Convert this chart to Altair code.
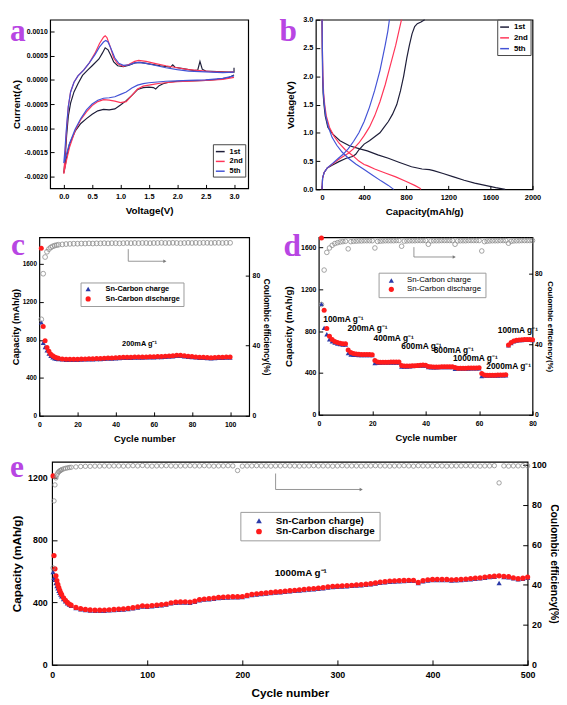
import altair as alt
import pandas as pd

FONT = "Liberation Sans"
SERIF = "Liberation Serif"
PURPLE = "#b846e3"
RED = "#ff1c1c"
BLUE = "#2b3aa8"
CE_GRAY = "#8a8a8a"
ARROW_GRAY = "#7a7a7a"

CV_LABELS = ["1st", "2nd", "5th"]
CV_COLORS = ["#1d1d38", "#ff3558", "#4353d6"]
SERIES_CD = ["Sn-Carbon charge", "Sn-Carbon discharge"]
SERIES_E = ["Sn-Carbon charge)", "Sn-Carbon discharge"]

# ---------------- panel a : cyclic voltammetry (V, A) ----------------
CV_1ST = [(3.00, 0.00010), (2.90, 0.00004), (2.70, 0.00001), (2.50, -0.00001), (2.20, -0.00002),
          (2.00, -0.00003), (1.85, -0.00005), (1.75, -0.00008), (1.68, -0.00012), (1.62, -0.00019),
          (1.58, -0.00016), (1.50, -0.00015), (1.40, -0.00016), (1.30, -0.00020), (1.20, -0.00032),
          (1.10, -0.00043), (1.00, -0.00052), (0.90, -0.00060), (0.80, -0.00062), (0.70, -0.00061),
          (0.60, -0.00064), (0.50, -0.00071), (0.40, -0.00080), (0.30, -0.00090), (0.20, -0.00106),
          (0.10, -0.00133), (0.05, -0.00160), (0.02, -0.00180), (0.00, -0.00192),
          (0.02, -0.00170), (0.05, -0.00115), (0.08, -0.00075), (0.12, -0.00048), (0.18, -0.00025),
          (0.25, -0.00008), (0.33, 0.00009), (0.42, 0.00020), (0.50, 0.00029), (0.62, 0.00043),
          (0.68, 0.00055), (0.73, 0.00066), (0.78, 0.00062), (0.83, 0.00050), (0.88, 0.00037),
          (0.95, 0.00029), (1.05, 0.00027), (1.15, 0.00030), (1.25, 0.00035), (1.35, 0.00036),
          (1.50, 0.00033), (1.70, 0.00029), (1.88, 0.00026), (1.92, 0.00031), (1.96, 0.00026),
          (2.10, 0.00023), (2.30, 0.00019), (2.36, 0.00020), (2.40, 0.00038), (2.44, 0.00022),
          (2.50, 0.00018), (2.70, 0.00017), (2.90, 0.00016), (3.00, 0.00016), (3.00, 0.00025)]
CV_2ND = [(3.00, 0.00005), (2.80, 0.00001), (2.50, -0.00001), (2.20, -0.00003), (2.00, -0.00004),
          (1.80, -0.00006), (1.70, -0.00007), (1.60, -0.00009), (1.50, -0.00011), (1.40, -0.00013),
          (1.30, -0.00019), (1.20, -0.00032), (1.10, -0.00045), (1.00, -0.00047), (0.90, -0.00044),
          (0.80, -0.00042), (0.70, -0.00041), (0.60, -0.00045), (0.50, -0.00053), (0.40, -0.00066),
          (0.30, -0.00082), (0.20, -0.00105), (0.10, -0.00140), (0.05, -0.00165), (0.02, -0.00182),
          (0.00, -0.00194),
          (0.02, -0.00160), (0.05, -0.00100), (0.08, -0.00055), (0.12, -0.00025), (0.18, -0.00005),
          (0.25, 0.00008), (0.35, 0.00020), (0.45, 0.00035), (0.55, 0.00055), (0.63, 0.00075),
          (0.70, 0.00088), (0.73, 0.00091), (0.76, 0.00087), (0.82, 0.00068), (0.88, 0.00045),
          (0.95, 0.00033), (1.05, 0.00028), (1.15, 0.00032), (1.25, 0.00038), (1.32, 0.00040),
          (1.45, 0.00038), (1.60, 0.00034), (1.80, 0.00029), (2.00, 0.00025), (2.20, 0.00021),
          (2.40, 0.00019), (2.60, 0.00017), (2.80, 0.00016), (3.00, 0.00016)]
CV_5TH = [(3.00, 0.00008), (2.80, 0.00003), (2.50, 0.00000), (2.20, -0.00001), (2.00, -0.00002),
          (1.80, -0.00003), (1.60, -0.00005), (1.50, -0.00006), (1.40, -0.00008), (1.30, -0.00011),
          (1.20, -0.00017), (1.10, -0.00025), (1.00, -0.00030), (0.90, -0.00035), (0.80, -0.00037),
          (0.70, -0.00038), (0.60, -0.00042), (0.50, -0.00050), (0.40, -0.00062), (0.30, -0.00080),
          (0.20, -0.00102), (0.10, -0.00132), (0.05, -0.00152), (0.02, -0.00165), (0.00, -0.00172),
          (0.02, -0.00145), (0.05, -0.00095), (0.08, -0.00055), (0.12, -0.00025), (0.18, -0.00005),
          (0.25, 0.00008), (0.35, 0.00020), (0.45, 0.00035), (0.55, 0.00052), (0.63, 0.00068),
          (0.70, 0.00078), (0.74, 0.00081), (0.78, 0.00078), (0.84, 0.00062), (0.90, 0.00045),
          (0.97, 0.00034), (1.05, 0.00030), (1.15, 0.00031), (1.25, 0.00035), (1.32, 0.00036),
          (1.45, 0.00034), (1.60, 0.00030), (1.80, 0.00025), (2.00, 0.00021), (2.20, 0.00018),
          (2.40, 0.00017), (2.60, 0.00016), (2.80, 0.00015), (3.00, 0.00016)]

# ---------------- panel b : voltage profiles (mAh/g, V) ----------------
B_1ST_DIS = [(0, 3.0), (2, 2.5), (5, 2.0), (10, 1.7), (18, 1.5), (30, 1.3), (55, 1.1), (100, 0.98),
             (170, 0.86), (260, 0.77), (350, 0.72), (430, 0.68), (530, 0.61), (630, 0.55), (730, 0.48),
             (850, 0.40), (950, 0.36), (1020, 0.35), (1060, 0.33), (1150, 0.28), (1250, 0.22),
             (1350, 0.16), (1450, 0.11), (1550, 0.07), (1650, 0.03), (1740, 0.0)]
B_1ST_CHG = [(0, 0.0), (5, 0.2), (20, 0.3), (50, 0.38), (100, 0.43), (160, 0.49), (230, 0.55),
             (290, 0.58), (320, 0.62), (350, 0.70), (400, 0.80), (450, 0.86), (500, 0.93), (550, 1.0),
             (590, 1.1), (630, 1.2), (670, 1.33), (710, 1.5), (745, 1.74), (775, 2.0), (805, 2.32),
             (830, 2.55), (855, 2.75), (880, 2.88), (905, 2.93), (940, 2.96), (975, 3.0)]
B_2ND_DIS = [(0, 3.0), (3, 2.5), (8, 2.0), (15, 1.7), (25, 1.5), (40, 1.3), (70, 1.1), (110, 0.95),
             (160, 0.82), (220, 0.70), (290, 0.60), (350, 0.50), (400, 0.44), (430, 0.42), (500, 0.36),
             (600, 0.29), (700, 0.22), (800, 0.14), (880, 0.07), (930, 0.02), (940, 0.0)]
B_2ND_CHG = [(0, 0.0), (5, 0.2), (20, 0.3), (50, 0.38), (100, 0.45), (150, 0.52), (200, 0.58),
             (250, 0.64), (300, 0.72), (350, 0.82), (400, 0.95), (450, 1.1), (500, 1.3), (550, 1.55),
             (600, 1.85), (650, 2.2), (700, 2.55), (730, 2.8), (755, 3.0)]
B_5TH_DIS = [(0, 3.0), (3, 2.5), (7, 2.0), (13, 1.7), (22, 1.5), (35, 1.3), (60, 1.1), (95, 0.92),
             (140, 0.78), (190, 0.66), (250, 0.55), (320, 0.45), (400, 0.35), (480, 0.25), (560, 0.15),
             (630, 0.07), (680, 0.0)]
B_5TH_CHG = [(0, 0.0), (5, 0.2), (20, 0.3), (50, 0.38), (100, 0.46), (150, 0.54), (200, 0.62),
             (250, 0.72), (300, 0.85), (350, 1.0), (400, 1.2), (450, 1.45), (500, 1.75), (550, 2.1),
             (600, 2.55), (625, 2.8), (640, 3.0)]

# ---------------- panel c : 200 mA/g cycling ----------------
C_CYCLES = [1, 2, 3, 4, 5, 6, 7, 8, 9, 10] + list(range(12, 101, 2))
C_DIS = [1765, 940, 790, 720, 680, 650, 632, 620, 612, 607,
         600, 597, 595, 595, 596, 598, 600, 601, 602, 603, 604, 606, 608, 610, 612,
         614, 616, 617, 618, 619, 620, 620, 621, 622, 623, 624, 626, 628, 630, 634,
         637, 638, 634, 628, 624, 621, 618, 616, 614, 613, 614, 616, 617, 619, 620]
C_CHG = [985, 770, 725, 690, 655, 632, 616, 606, 600, 597,
         594, 591, 589, 589, 590, 592, 594, 595, 596, 597, 598, 600, 602, 604, 606,
         608, 610, 611, 612, 613, 614, 614, 615, 616, 617, 618, 620, 622, 624, 628,
         631, 632, 628, 622, 618, 615, 612, 610, 608, 607, 608, 610, 611, 613, 614]
C_CE = [55.0, 81.0, 90.5, 93.5, 95.0, 96.0, 96.6, 97.0, 97.3, 97.5,
        97.7, 97.9, 98.0, 98.1, 98.1, 98.2, 98.2, 98.3, 98.2, 98.3, 98.3, 98.4, 98.3, 98.4, 98.4,
        98.3, 98.4, 98.5, 98.4, 98.5, 98.4, 98.5, 98.5, 98.4, 98.5, 98.5, 98.6, 98.5, 98.5, 98.6,
        98.5, 98.4, 98.5, 98.6, 98.5, 98.6, 98.5, 98.6, 98.6, 98.5, 98.6, 98.6, 98.5, 98.6, 98.6]
C_RATE_TEXT = ["200mA g⁻¹"]
C_RATE_X = [52.5]
C_RATE_Y = [756]
C_ARROW_X = [46.6, 46.6, 65.8]
C_ARROW_Y = [95.0, 88.1, 88.1]

# ---------------- panel d : rate capability ----------------
D_CYCLES = list(range(1, 81))
D_DIS = [1690, 1000, 825, 750, 720, 700, 690, 685, 680, 680,
         620, 595, 585, 580, 578, 577, 577, 577, 576, 575,
         520, 505, 502, 502, 503, 503, 504, 504, 505, 505,
         472, 466, 466, 467, 468, 470, 472, 474, 475, 474,
         462, 459, 458, 458, 458, 459, 460, 460, 460, 460,
         452, 446, 445, 445, 446, 447, 448, 448, 448, 449,
         395, 380, 378, 378, 378, 379, 380, 380, 381, 382,
         668, 690, 705, 712, 716, 718, 720, 720, 720, 718]
D_CHG = [1060, 830, 770, 722, 702, 690, 680, 675, 670, 670,
         590, 576, 573, 572, 571, 571, 571, 571, 570, 570,
         495, 497, 497, 498, 498, 499, 499, 500, 500, 500,
         462, 461, 462, 463, 465, 467, 469, 470, 471, 470,
         455, 454, 454, 454, 455, 455, 456, 456, 456, 456,
         440, 441, 441, 442, 442, 443, 444, 444, 445, 445,
         370, 374, 374, 375, 375, 376, 376, 377, 377, 378,
         664, 686, 701, 709, 713, 715, 717, 717, 717, 715]
D_CE = [62.5, 82.0, 92.0, 94.5, 96.0, 97.0, 97.5, 97.9, 98.1, 98.3,
        94.0, 98.1, 98.3, 98.4, 98.5, 98.5, 98.6, 98.6, 98.6, 98.6,
        94.5, 98.2, 98.4, 98.5, 98.6, 98.6, 98.6, 98.6, 98.7, 98.7,
        95.5, 98.4, 98.5, 98.6, 98.6, 98.6, 98.7, 98.7, 98.7, 98.7,
        96.6, 98.5, 98.6, 98.6, 98.6, 98.7, 98.7, 98.7, 98.7, 98.7,
        96.6, 98.5, 98.6, 98.6, 98.6, 98.7, 98.7, 98.7, 98.7, 98.7,
        92.8, 98.1, 98.4, 98.5, 98.6, 98.6, 98.6, 98.7, 98.7, 98.7,
        97.2, 98.3, 98.5, 98.6, 98.6, 98.7, 98.7, 98.7, 98.7, 98.7]
D_RATE_TEXT = ["100mA g⁻¹", "200mA g⁻¹", "400mA g⁻¹", "600mA g⁻¹", "800mA g⁻¹",
               "1000mA g⁻¹", "2000mA g⁻¹", "100mA g⁻¹"]
D_RATE_X = [1.7, 10.7, 20.5, 30.9, 43.0, 50.2, 62.7, 67.0]
D_RATE_Y = [913, 826, 732, 654, 622, 538, 466, 810]
D_ARROW_X = [35.6, 35.6, 50.7]
D_ARROW_Y = [95.0, 89.4, 89.4]

# ---------------- panel e : 1000 mA/g long cycling ----------------
E_CYCLES = [1, 2, 3, 4, 5, 6, 7, 8, 9, 10, 12, 14, 16, 18, 20] + list(range(25, 501, 5))
E_DIS = [1210, 700, 615, 570, 540, 515, 495, 478, 462, 450,
         430, 414, 400, 390, 382,
         368, 360, 355, 352, 350, 350, 351, 353, 355, 357,
         359, 362, 366, 372, 378, 376, 380, 383, 386, 390,
         398, 402, 403, 404, 402, 408, 418, 422, 425, 428,
         432, 434, 436, 437, 437, 438, 445, 452, 455, 458,
         461, 464, 467, 469, 472, 475, 478, 481, 484, 487,
         489, 492, 495, 500, 503, 504, 506, 508, 510, 512,
         514, 517, 520, 525, 530, 533, 537, 538, 540, 541,
         542, 542, 528, 540, 545, 547, 548, 548, 547, 545,
         546, 548, 550, 553, 556, 558, 562, 566, 568, 570,
         567, 565, 558, 552, 555, 562]
E_CHG = [595, 558, 545, 525, 505, 490, 475, 462, 450, 440,
         422, 407, 395, 386, 378,
         364, 356, 351, 348, 346, 346, 347, 349, 351, 353,
         355, 358, 362, 368, 374, 372, 376, 379, 382, 386,
         394, 398, 399, 400, 398, 404, 414, 418, 421, 424,
         428, 430, 432, 433, 433, 434, 441, 448, 451, 454,
         457, 460, 463, 465, 468, 471, 474, 477, 480, 483,
         485, 488, 491, 496, 499, 500, 502, 504, 506, 508,
         510, 513, 516, 521, 526, 529, 533, 534, 536, 537,
         538, 538, 524, 536, 541, 543, 544, 544, 543, 541,
         542, 544, 546, 549, 552, 554, 558, 562, 564, 525,
         563, 561, 554, 548, 551, 558]
E_CE = [48.5, 82.0, 90.0, 93.5, 95.0, 96.0, 96.6, 97.0, 97.3, 97.6,
        98.0, 98.3, 98.5, 98.7, 98.8,
        99.0, 99.2, 99.3, 99.3, 99.4, 99.4, 99.5, 99.4, 99.5, 99.5,
        99.4, 99.5, 99.6, 99.5, 99.7, 99.5, 99.4, 99.5, 99.5, 99.6,
        99.5, 99.4, 99.5, 99.5, 99.6, 99.5, 99.5, 99.6, 99.5, 99.4,
        99.5, 99.5, 99.6, 99.5, 97.2, 99.4, 99.5, 99.5, 99.6, 99.5,
        99.5, 99.4, 99.5, 99.5, 99.6, 99.5, 99.5, 99.4, 99.5, 99.5,
        99.6, 99.5, 99.5, 99.5, 99.4, 99.5, 99.6, 99.5, 99.5, 99.5,
        99.4, 99.5, 99.5, 99.6, 99.5, 99.5, 99.4, 99.5, 99.5, 99.6,
        99.5, 99.4, 99.6, 99.5, 99.5, 99.5, 99.6, 99.5, 99.4, 99.5,
        99.5, 99.5, 99.6, 99.5, 99.5, 99.4, 99.5, 99.5, 99.6, 91.0,
        99.5, 99.4, 99.5, 99.5, 99.6, 99.5]
E_RATE_TEXT = ["1000mA g⁻¹"]
E_RATE_X = [234]
E_RATE_Y = [589]
E_ARROW_X = [235, 235, 325]
E_ARROW_Y = [95.7, 87.7, 87.7]

PANEL_LETTERS = ["a", "b", "c", "d", "e"]


# ---------------- helpers ----------------
def ax(title, values, orient, lsize, tsize, lpad, tpad, fmt="d", tick=4, expr=None):
    kw = dict(title=title, values=values, orient=orient, format=fmt,
              labelFontSize=lsize, titleFontSize=tsize, labelPadding=lpad,
              titlePadding=tpad, tickSize=tick, offset=-tick, tickWidth=1,
              labelFlush=False, labelOverlap=False)
    if expr is not None:
        kw["labelExpr"] = expr
    return alt.Axis(**kw)


def sc(lo, hi):
    return alt.Scale(domain=[lo, hi], nice=False, zero=False)


def letter(ch, x, y):
    return alt.Chart(pd.DataFrame({"t": [ch]})).mark_text(
        font=SERIF, fontSize=32, fontWeight="bold", color=PURPLE,
        align="left", baseline="alphabetic").encode(
        text="t:N", x=alt.value(x), y=alt.value(y))


def spacer():
    # 1x1 invisible cell that anchors each row at the left edge of the page
    return alt.Chart(pd.DataFrame({"s": [0]})).mark_point(size=0, opacity=0).encode(
        x=alt.value(0.5), y=alt.value(0.5)
    ).properties(width=1, height=1, view=alt.ViewBackground(strokeOpacity=0, fillOpacity=0))


def curves_frame(curves):
    rows = []
    for cid, (label, pts) in enumerate(curves):
        for k, (xv, yv) in enumerate(pts):
            rows.append({"x": xv, "y": yv, "cycle": label, "curve": cid, "k": k})
    return pd.DataFrame(rows)


def line_legend(lx, ly, fs):
    return alt.Legend(title=None, orient="none", legendX=lx, legendY=ly,
                      symbolType="stroke", symbolSize=81, symbolStrokeWidth=1.5,
                      labelFont=FONT, labelFontWeight="bold", labelFontSize=fs,
                      labelColor="black", padding=2, rowPadding=1, labelOffset=4,
                      strokeColor="#444", fillColor="white")


def point_legend(lx, ly, fs, weight, pad, soff, loff, ssize):
    return alt.Legend(title=None, orient="none", legendX=lx, legendY=ly,
                      labelFont=FONT, labelFontWeight=weight, labelFontSize=fs,
                      labelColor="black", padding=pad, rowPadding=1,
                      symbolOffset=soff, labelOffset=loff, symbolSize=ssize,
                      strokeColor="#9a9a9a", fillColor="white")


def cycling_panel(cycles, chg, dis, ce, names, legend, xsc, xax, ysc, yax, cesc, ceax,
                  rate_text, rate_x, rate_y, rate_font, rate_align,
                  arrow_x, arrow_y, msize, cesize, let, lx, ly, w, h):
    n = len(cycles)
    df = pd.DataFrame({"cycle": list(cycles) * 2, "cap": list(chg) + list(dis),
                       "series": [names[0]] * n + [names[1]] * n})
    pts = alt.Chart(df).mark_point(filled=True, size=msize, opacity=1).encode(
        x=alt.X("cycle:Q", scale=xsc, axis=xax),
        y=alt.Y("cap:Q", scale=ysc, axis=yax),
        color=alt.Color("series:N", scale=alt.Scale(domain=names, range=[BLUE, RED]), legend=legend),
        shape=alt.Shape("series:N", scale=alt.Scale(domain=names, range=["triangle-up", "circle"]),
                        legend=legend),
    )
    txt = alt.Chart(pd.DataFrame({"cycle": rate_x, "cap": rate_y, "label": rate_text})).mark_text(
        font=FONT, fontWeight="bold", fontSize=rate_font, color="black",
        align=rate_align, baseline="middle").encode(
        x=alt.X("cycle:Q", scale=xsc), y=alt.Y("cap:Q", scale=ysc), text="label:N")
    dce = pd.DataFrame({"cycle": list(cycles), "ce": list(ce)})
    cep = alt.Chart(dce).mark_point(filled=False, color=CE_GRAY, size=cesize,
                                    strokeWidth=0.8, opacity=1).encode(
        x=alt.X("cycle:Q", scale=xsc), y=alt.Y("ce:Q", scale=cesc, axis=ceax))
    darr = pd.DataFrame({"cycle": arrow_x, "ce": arrow_y, "k": list(range(len(arrow_x)))})
    arr = alt.Chart(darr).mark_line(color=ARROW_GRAY, strokeWidth=0.8).encode(
        x=alt.X("cycle:Q", scale=xsc), y=alt.Y("ce:Q", scale=cesc), order="k:Q")
    head = alt.Chart(darr.tail(1)).mark_point(shape="triangle-right", filled=True,
                                              color=ARROW_GRAY, size=14, opacity=1).encode(
        x=alt.X("cycle:Q", scale=xsc), y=alt.Y("ce:Q", scale=cesc))
    return alt.layer(alt.layer(pts, txt), alt.layer(cep, arr, head), letter(let, lx, ly)).resolve_scale(
        y="independent").properties(width=w, height=h)


# ---------------- panel a ----------------
df_a = curves_frame([("1st", CV_1ST), ("2nd", CV_2ND), ("5th", CV_5TH)])
minus_expr = "datum.value < 0 ? '-' + format(-datum.value, '.4f') : format(datum.value, '.4f')"
a_lines = alt.Chart(df_a).mark_line(strokeWidth=1.2).encode(
    x=alt.X("x:Q", scale=sc(-0.24, 3.25),
            axis=ax("Voltage(V)", [0, 0.5, 1.0, 1.5, 2.0, 2.5, 3.0], "bottom", 7.5, 10, 4, 6, fmt=".1f")),
    y=alt.Y("y:Q", scale=sc(-0.00224, 0.00124),
            axis=ax("Current(A)", [-0.002, -0.0015, -0.001, -0.0005, 0, 0.0005, 0.001], "left",
                    7, 10, 3, 3, fmt=".4f", expr=minus_expr)),
    color=alt.Color("cycle:N", scale=alt.Scale(domain=CV_LABELS, range=CV_COLORS),
                    legend=line_legend(166, 127, 7.5)),
    detail="curve:N",
    order="k:Q",
)
panel_a = alt.layer(a_lines, letter(PANEL_LETTERS[0], -41, 22)).properties(width=202, height=172)

# ---------------- panel b ----------------
df_b = curves_frame([("1st", B_1ST_DIS), ("1st", B_1ST_CHG), ("2nd", B_2ND_DIS), ("2nd", B_2ND_CHG),
                     ("5th", B_5TH_DIS), ("5th", B_5TH_CHG)])
b_lines = alt.Chart(df_b).mark_line(strokeWidth=1.2).encode(
    x=alt.X("x:Q", scale=sc(-59, 2000),
            axis=ax("Capacity(mAh/g)", [0, 400, 800, 1200, 1600, 2000], "bottom", 7.5, 10, 4, 6)),
    y=alt.Y("y:Q", scale=sc(0, 3.0),
            axis=ax("Voltage(V)", [0, 0.5, 1.0, 1.5, 2.0, 2.5, 3.0], "left", 7.5, 10, 3, 7, fmt=".1f")),
    color=alt.Color("cycle:N", scale=alt.Scale(domain=CV_LABELS, range=CV_COLORS),
                    legend=line_legend(185, 0, 8)),
    detail="curve:N",
    order="k:Q",
)
panel_b = alt.layer(b_lines, letter(PANEL_LETTERS[1], -37, 22)).properties(width=221, height=173)

# ---------------- panel c ----------------
panel_c = cycling_panel(
    C_CYCLES, C_CHG, C_DIS, C_CE, SERIES_CD,
    point_legend(42, 46, 7.5, "bold", 3, 1, 14, 28),
    sc(0, 110), ax("Cycle number", [0, 20, 40, 60, 80, 100], "bottom", 7, 9.5, 5, 6),
    sc(0, 1880), ax("Capacity (mAh/g)", [0, 400, 800, 1200, 1600], "left", 6.5, 9.5, 3, 2),
    sc(0, 101.7), ax("Coulombic efficiency(%)", [0, 20, 40, 60, 80, 100], "right", 7, 8.5, 3, 2),
    C_RATE_TEXT, C_RATE_X, C_RATE_Y, 7.5, "center",
    C_ARROW_X, C_ARROW_Y, 26, 24, PANEL_LETTERS[2], -29, 18, 214, 182)

# ---------------- panel d ----------------
panel_d = cycling_panel(
    D_CYCLES, D_CHG, D_DIS, D_CE, SERIES_CD,
    point_legend(61, 36, 8, "normal", 4, 5, 12, 28),
    sc(0, 80), ax("Cycle number", [0, 10, 20, 30, 40, 50, 60, 70, 80], "bottom", 7, 9.5, 5, 6),
    sc(0, 1695), ax("Capacity (mAh/g)", [0, 400, 800, 1200, 1600], "left", 7, 10, 3, 7),
    sc(0, 100.5), ax("Coulombic efficiency(%)", [0, 20, 40, 60, 80, 100], "right", 7, 8, 2, 3),
    D_RATE_TEXT, D_RATE_X, D_RATE_Y, 8.5, "left",
    D_ARROW_X, D_ARROW_Y, 26, 22, PANEL_LETTERS[3], -36, 19, 218, 181)

# ---------------- panel e ----------------
panel_e = cycling_panel(
    E_CYCLES, E_CHG, E_DIS, E_CE, SERIES_E,
    point_legend(192, 51, 10, "bold", 4, 10, 12, 34),
    sc(0, 500), ax("Cycle number", [0, 100, 200, 300, 400, 500], "bottom", 9, 12, 6, 8, tick=5),
    sc(0, 1300), ax("Capacity (mAh/g)", [0, 400, 800, 1200], "left", 9, 12, 5, 4, tick=5),
    sc(0, 101.5), ax("Coulombic efficiency(%)", [0, 20, 40, 60, 80, 100], "right", 9, 10.5, 4, 2, tick=5),
    E_RATE_TEXT, E_RATE_X, E_RATE_Y, 10, "left",
    E_ARROW_X, E_ARROW_Y, 28, 20, PANEL_LETTERS[4], -43, 15, 485, 207)

indep = dict(color="independent", shape="independent")
row1 = alt.hconcat(spacer(), alt.hconcat(panel_a, panel_b, spacing=30).resolve_scale(**indep),
                   spacing=0).resolve_scale(**indep)
row2 = alt.hconcat(spacer(), alt.hconcat(panel_c, panel_d, spacing=11).resolve_scale(**indep),
                   spacing=0).resolve_scale(**indep)
row3 = alt.hconcat(spacer(), panel_e, spacing=0).resolve_scale(**indep)
top = alt.concat(row1, row2, columns=1, align="none", spacing=11).resolve_scale(**indep)
chart = alt.concat(top, row3, columns=1, align="none", spacing=6).resolve_scale(**indep).properties(
    padding=0, background="white"
).configure_view(stroke="black", strokeWidth=1.2).configure_axis(
    domain=False, grid=False, labelFont=FONT, titleFont=FONT, labelFontWeight="bold",
    titleFontWeight="bold", labelColor="black", titleColor="black", tickColor="black"
)

chart.save("out.html", embed_options={"renderer": "svg", "actions": False})
